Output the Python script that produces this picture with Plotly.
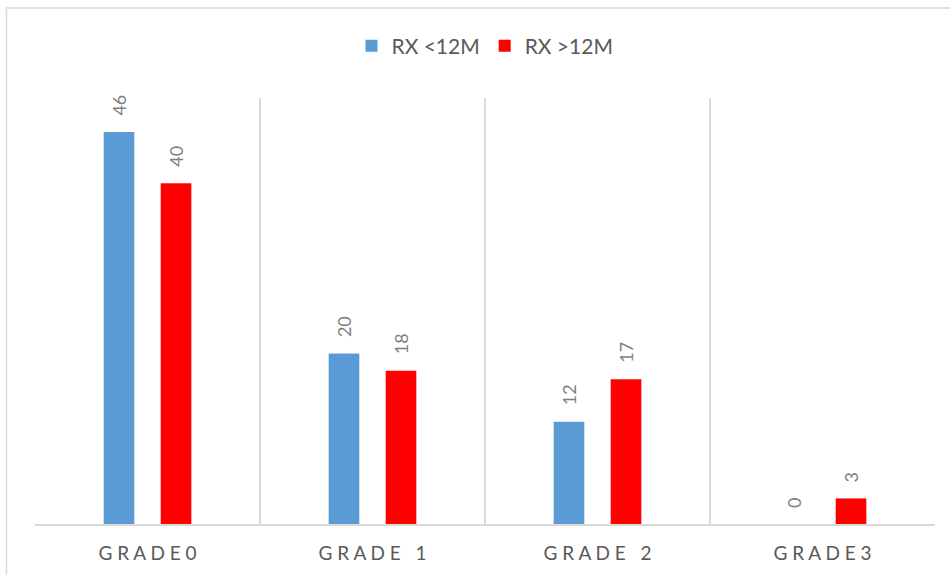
import plotly.graph_objects as go

categories = ["GRADE0", "GRADE 1", "GRADE 2", "GRADE3"]
tick_labels = ["G R A D E 0", "G R A D E   1", "G R A D E   2", "G R A D E 3"]
series_names = ["RX <12M", "RX >12M"]
rx_lt_12m = [46, 20, 12, 0]
rx_gt_12m = [40, 18, 17, 3]
colors = ["#5B9BD5", "#FF0000"]

FONT = "Lato, Open Sans, sans-serif"

fig = go.Figure()
for name, vals, col in zip(series_names, [rx_lt_12m, rx_gt_12m], colors):
    fig.add_trace(go.Bar(x=categories, y=vals, name=name, marker=dict(color=col, line=dict(width=0))))

annotations = []
for vals, shift in [(rx_lt_12m, -28.5), (rx_gt_12m, 28.5)]:
    for c, v in zip(categories, vals):
        annotations.append(dict(x=c, y=v, xref="x", yref="y", text=str(v), showarrow=False,
                                textangle=-90, xshift=shift, yanchor="bottom", yshift=14,
                                font=dict(family=FONT, size=18, color="#7F7F7F")))

fig.update_layout(
    width=950, height=575,
    margin=dict(l=35, r=15, t=98, b=51),
    paper_bgcolor="white", plot_bgcolor="white",
    barmode="group", bargap=0.493, bargroupgap=0.463,
    font=dict(family=FONT, color="#595959"),
    showlegend=True,
    legend=dict(orientation="h", x=0.5, xanchor="center", y=1.122, yanchor="middle",
                font=dict(size=21, color="#595959"), itemsizing="constant", traceorder="normal"),
    xaxis=dict(type="category", range=[-0.5, 3.5], tickson="boundaries", showgrid=True,
               gridcolor="#D9D9D9", gridwidth=1.5, showline=True, linecolor="#D9D9D9", linewidth=1.5,
               ticks="", tickmode="array", tickvals=categories, ticktext=tick_labels,
               ticklabelstandoff=11,
               tickfont=dict(size=19, color="#595959"), fixedrange=True),
    yaxis=dict(range=[0, 50], showgrid=False, zeroline=False, showticklabels=False, showline=False),
    annotations=annotations,
    shapes=[dict(type="rect", xref="paper", yref="paper", x0=-0.0317, x1=1.2, y0=-0.3, y1=1.2113,
                 line=dict(color="#D9D9D9", width=1.5), fillcolor="rgba(0,0,0,0)", layer="below")],
)

fig.write_html("out.html")
